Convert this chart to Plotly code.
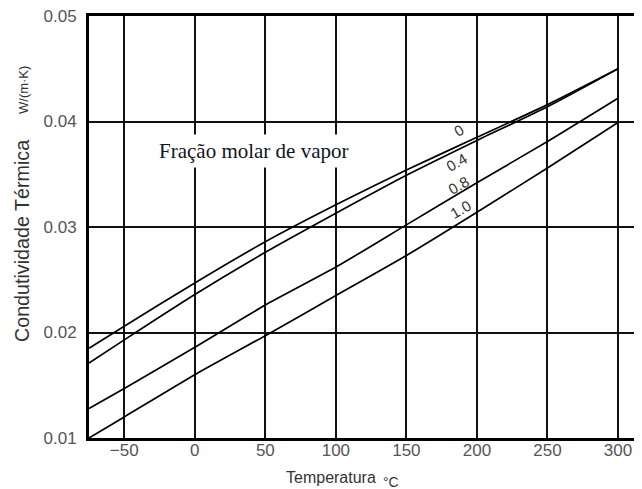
import plotly.graph_objects as go

# Dados (condutividade térmica vs temperatura)
temperatura = [-75, -50, 0, 50, 100, 150, 200, 250, 300]
k_fracao_0 = [0.0185, 0.0206, 0.0247, 0.0286, 0.0321, 0.0354, 0.0385, 0.0416, 0.0450]
k_fracao_04 = [0.0171, 0.0193, 0.0236, 0.0276, 0.0313, 0.0349, 0.0382, 0.0414, 0.0450]
k_fracao_08 = [0.0128, 0.0147, 0.0186, 0.0226, 0.0262, 0.0302, 0.0342, 0.0381, 0.0422]
k_fracao_10 = [0.0100, 0.0120, 0.0160, 0.0197, 0.0235, 0.0273, 0.0314, 0.0356, 0.0399]
rotulos_fracao = ["0", "0.4", "0.8", "1.0"]

x_ticks = [-50, 0, 50, 100, 150, 200, 250, 300]
x_tick_text = ["\u221250", "0", "50", "100", "150", "200", "250", "300"]
y_ticks = [0.01, 0.02, 0.03, 0.04, 0.05]
y_tick_text = ["0.01", "0.02", "0.03", "0.04", "0.05"]

# a página tem margem de 8 px no body, por isso tudo é deslocado
OFF = 8
W, H = 642, 489
L, R, T, B = 89 - OFF, 0, 16 - OFF, 51 + OFF


def px_paper(px, py):
    # converte pixels da janela para coordenadas "paper"
    fx, fy = px - OFF, py - OFF
    return (fx - L) / (W - L - R), (H - B - fy) / (H - T - B)


def texto(px, py, txt, size, family="Liberation Sans, Arial", color="#333", angle=0, **kw):
    xp, yp = px_paper(px, py)
    fig.add_annotation(
        x=xp, y=yp, xref="paper", yref="paper", text=txt, showarrow=False,
        xanchor="center", yanchor="middle", textangle=angle,
        font=dict(family=family, size=size, color=color), **kw,
    )


fig = go.Figure()

for serie in [k_fracao_0, k_fracao_04, k_fracao_08, k_fracao_10]:
    fig.add_trace(go.Scatter(
        x=temperatura, y=serie, mode="lines",
        line=dict(color="black", width=1.7, shape="spline", smoothing=0.6),
        showlegend=False, hoverinfo="skip",
    ))

# rótulos das curvas
pos_rotulos = [(459, 131), (456, 162), (458, 185), (460, 209)]
for txt, (px, py) in zip(rotulos_fracao, pos_rotulos):
    if txt == "1.0":
        texto(px, py, txt, 15, angle=-30, bgcolor="white", borderpad=0)
    else:
        texto(px, py, txt, 15, angle=-30)

texto(254, 151, "Fração molar de vapor", 21,
      family="Liberation Serif, Times New Roman", color="#10141f",
      bgcolor="white", borderpad=4)

# títulos dos eixos
texto(331, 477, "Temperatura", 16)
texto(391, 482, "°C", 14)
texto(22, 241, "Condutividade Térmica", 19.7, angle=-90)
texto(23, 90, "W/(m·K)", 13, angle=-90)

fig.update_layout(
    width=W, height=H,
    margin=dict(l=L, r=R, t=T, b=B),
    paper_bgcolor="white", plot_bgcolor="white",
    xaxis=dict(
        range=[-75, 322.7], tickvals=x_ticks, ticktext=x_tick_text,
        showgrid=True, gridcolor="#111", gridwidth=2, zeroline=False,
        showline=True, linecolor="black", linewidth=3, mirror=True,
        ticks="", ticklabelstandoff=-5, ticklabeloverflow="allow",
        tickfont=dict(family="Liberation Sans, Arial", size=17, color="#555"),
    ),
    yaxis=dict(
        range=[0.01, 0.05], tickvals=y_ticks, ticktext=y_tick_text,
        showgrid=True, gridcolor="#111", gridwidth=2, zeroline=False,
        showline=True, linecolor="black", linewidth=3, mirror=False,
        ticks="", ticklabelstandoff=6, ticklabeloverflow="allow",
        tickfont=dict(family="Liberation Sans, Arial", size=17, color="#555"),
    ),
)

fig.write_html("out.html")
